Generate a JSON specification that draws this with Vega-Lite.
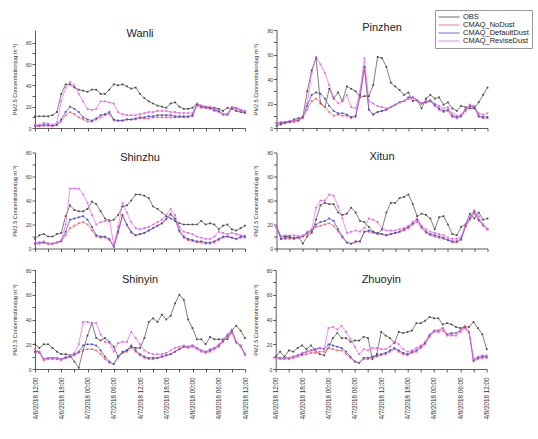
{
"$schema":"https://vega.github.io/schema/vega-lite/v6.json",
"padding":{"left":12,"top":9,"right":2,"bottom":2},
"background":"white",
"data":{"values":[
{"site":"Wanli","t":"2018-04-06T12:00","OBS":11,"NoDust":2,"DefaultDust":2,"ReviseDust":3},
{"site":"Wanli","t":"2018-04-06T13:00","OBS":11,"NoDust":2,"DefaultDust":2,"ReviseDust":3},
{"site":"Wanli","t":"2018-04-06T14:00","OBS":11,"NoDust":2,"DefaultDust":3,"ReviseDust":5},
{"site":"Wanli","t":"2018-04-06T15:00","OBS":11,"NoDust":2,"DefaultDust":3,"ReviseDust":4},
{"site":"Wanli","t":"2018-04-06T16:00","OBS":12,"NoDust":2,"DefaultDust":2,"ReviseDust":3},
{"site":"Wanli","t":"2018-04-06T17:00","OBS":15,"NoDust":3,"DefaultDust":3,"ReviseDust":5},
{"site":"Wanli","t":"2018-04-06T18:00","OBS":32,"NoDust":6,"DefaultDust":8,"ReviseDust":25},
{"site":"Wanli","t":"2018-04-06T19:00","OBS":41,"NoDust":12,"DefaultDust":15,"ReviseDust":38},
{"site":"Wanli","t":"2018-04-06T20:00","OBS":41,"NoDust":15,"DefaultDust":20,"ReviseDust":43},
{"site":"Wanli","t":"2018-04-06T21:00","OBS":38,"NoDust":13,"DefaultDust":18,"ReviseDust":40},
{"site":"Wanli","t":"2018-04-06T22:00","OBS":36,"NoDust":10,"DefaultDust":15,"ReviseDust":32},
{"site":"Wanli","t":"2018-04-06T23:00","OBS":35,"NoDust":8,"DefaultDust":10,"ReviseDust":25},
{"site":"Wanli","t":"2018-04-07T00:00","OBS":34,"NoDust":6,"DefaultDust":8,"ReviseDust":18},
{"site":"Wanli","t":"2018-04-07T01:00","OBS":36,"NoDust":6,"DefaultDust":7,"ReviseDust":17},
{"site":"Wanli","t":"2018-04-07T02:00","OBS":36,"NoDust":8,"DefaultDust":9,"ReviseDust":18},
{"site":"Wanli","t":"2018-04-07T03:00","OBS":32,"NoDust":10,"DefaultDust":12,"ReviseDust":25},
{"site":"Wanli","t":"2018-04-07T04:00","OBS":32,"NoDust":12,"DefaultDust":13,"ReviseDust":25},
{"site":"Wanli","t":"2018-04-07T05:00","OBS":36,"NoDust":13,"DefaultDust":15,"ReviseDust":24},
{"site":"Wanli","t":"2018-04-07T06:00","OBS":41,"NoDust":7,"DefaultDust":8,"ReviseDust":23},
{"site":"Wanli","t":"2018-04-07T07:00","OBS":40,"NoDust":7,"DefaultDust":7,"ReviseDust":15},
{"site":"Wanli","t":"2018-04-07T08:00","OBS":41,"NoDust":7,"DefaultDust":7,"ReviseDust":13},
{"site":"Wanli","t":"2018-04-07T09:00","OBS":39,"NoDust":8,"DefaultDust":8,"ReviseDust":12},
{"site":"Wanli","t":"2018-04-07T10:00","OBS":37,"NoDust":8,"DefaultDust":8,"ReviseDust":12},
{"site":"Wanli","t":"2018-04-07T11:00","OBS":38,"NoDust":8,"DefaultDust":9,"ReviseDust":12},
{"site":"Wanli","t":"2018-04-07T12:00","OBS":32,"NoDust":9,"DefaultDust":10,"ReviseDust":13},
{"site":"Wanli","t":"2018-04-07T13:00","OBS":28,"NoDust":9,"DefaultDust":10,"ReviseDust":14},
{"site":"Wanli","t":"2018-04-07T14:00","OBS":25,"NoDust":9,"DefaultDust":11,"ReviseDust":15},
{"site":"Wanli","t":"2018-04-07T15:00","OBS":23,"NoDust":10,"DefaultDust":11,"ReviseDust":15},
{"site":"Wanli","t":"2018-04-07T16:00","OBS":21,"NoDust":10,"DefaultDust":12,"ReviseDust":16},
{"site":"Wanli","t":"2018-04-07T17:00","OBS":20,"NoDust":10,"DefaultDust":12,"ReviseDust":16},
{"site":"Wanli","t":"2018-04-07T18:00","OBS":19,"NoDust":10,"DefaultDust":12,"ReviseDust":16},
{"site":"Wanli","t":"2018-04-07T19:00","OBS":23,"NoDust":10,"DefaultDust":12,"ReviseDust":15},
{"site":"Wanli","t":"2018-04-07T20:00","OBS":24,"NoDust":10,"DefaultDust":11,"ReviseDust":15},
{"site":"Wanli","t":"2018-04-07T21:00","OBS":20,"NoDust":10,"DefaultDust":11,"ReviseDust":14},
{"site":"Wanli","t":"2018-04-07T22:00","OBS":18,"NoDust":10,"DefaultDust":11,"ReviseDust":14},
{"site":"Wanli","t":"2018-04-07T23:00","OBS":18,"NoDust":10,"DefaultDust":11,"ReviseDust":14},
{"site":"Wanli","t":"2018-04-08T00:00","OBS":19,"NoDust":11,"DefaultDust":12,"ReviseDust":14},
{"site":"Wanli","t":"2018-04-08T01:00","OBS":23,"NoDust":21,"DefaultDust":22,"ReviseDust":23},
{"site":"Wanli","t":"2018-04-08T02:00","OBS":21,"NoDust":19,"DefaultDust":20,"ReviseDust":21},
{"site":"Wanli","t":"2018-04-08T03:00","OBS":20,"NoDust":19,"DefaultDust":19,"ReviseDust":20},
{"site":"Wanli","t":"2018-04-08T04:00","OBS":19,"NoDust":18,"DefaultDust":19,"ReviseDust":20},
{"site":"Wanli","t":"2018-04-08T05:00","OBS":19,"NoDust":16,"DefaultDust":17,"ReviseDust":18},
{"site":"Wanli","t":"2018-04-08T06:00","OBS":18,"NoDust":15,"DefaultDust":16,"ReviseDust":17},
{"site":"Wanli","t":"2018-04-08T07:00","OBS":16,"NoDust":12,"DefaultDust":13,"ReviseDust":13},
{"site":"Wanli","t":"2018-04-08T08:00","OBS":19,"NoDust":12,"DefaultDust":13,"ReviseDust":13},
{"site":"Wanli","t":"2018-04-08T09:00","OBS":18,"NoDust":18,"DefaultDust":19,"ReviseDust":20},
{"site":"Wanli","t":"2018-04-08T10:00","OBS":16,"NoDust":18,"DefaultDust":19,"ReviseDust":19},
{"site":"Wanli","t":"2018-04-08T11:00","OBS":15,"NoDust":16,"DefaultDust":17,"ReviseDust":17},
{"site":"Wanli","t":"2018-04-08T12:00","OBS":14,"NoDust":14,"DefaultDust":15,"ReviseDust":16},
{"site":"Pinzhen","t":"2018-04-06T12:00","OBS":2,"NoDust":4,"DefaultDust":4,"ReviseDust":4},
{"site":"Pinzhen","t":"2018-04-06T13:00","OBS":3,"NoDust":4,"DefaultDust":4,"ReviseDust":5},
{"site":"Pinzhen","t":"2018-04-06T14:00","OBS":4,"NoDust":5,"DefaultDust":5,"ReviseDust":5},
{"site":"Pinzhen","t":"2018-04-06T15:00","OBS":5,"NoDust":5,"DefaultDust":5,"ReviseDust":6},
{"site":"Pinzhen","t":"2018-04-06T16:00","OBS":7,"NoDust":5,"DefaultDust":6,"ReviseDust":6},
{"site":"Pinzhen","t":"2018-04-06T17:00","OBS":8,"NoDust":6,"DefaultDust":6,"ReviseDust":7},
{"site":"Pinzhen","t":"2018-04-06T18:00","OBS":9,"NoDust":8,"DefaultDust":9,"ReviseDust":10},
{"site":"Pinzhen","t":"2018-04-06T19:00","OBS":30,"NoDust":15,"DefaultDust":18,"ReviseDust":20},
{"site":"Pinzhen","t":"2018-04-06T20:00","OBS":47,"NoDust":22,"DefaultDust":27,"ReviseDust":45},
{"site":"Pinzhen","t":"2018-04-06T21:00","OBS":57,"NoDust":24,"DefaultDust":29,"ReviseDust":58},
{"site":"Pinzhen","t":"2018-04-06T22:00","OBS":20,"NoDust":21,"DefaultDust":28,"ReviseDust":52},
{"site":"Pinzhen","t":"2018-04-06T23:00","OBS":17,"NoDust":17,"DefaultDust":24,"ReviseDust":45},
{"site":"Pinzhen","t":"2018-04-07T00:00","OBS":32,"NoDust":13,"DefaultDust":18,"ReviseDust":35},
{"site":"Pinzhen","t":"2018-04-07T01:00","OBS":24,"NoDust":10,"DefaultDust":14,"ReviseDust":25},
{"site":"Pinzhen","t":"2018-04-07T02:00","OBS":29,"NoDust":11,"DefaultDust":12,"ReviseDust":20},
{"site":"Pinzhen","t":"2018-04-07T03:00","OBS":22,"NoDust":10,"DefaultDust":12,"ReviseDust":22},
{"site":"Pinzhen","t":"2018-04-07T04:00","OBS":34,"NoDust":10,"DefaultDust":11,"ReviseDust":27},
{"site":"Pinzhen","t":"2018-04-07T05:00","OBS":32,"NoDust":8,"DefaultDust":9,"ReviseDust":17},
{"site":"Pinzhen","t":"2018-04-07T06:00","OBS":30,"NoDust":9,"DefaultDust":10,"ReviseDust":16},
{"site":"Pinzhen","t":"2018-04-07T07:00","OBS":25,"NoDust":25,"DefaultDust":27,"ReviseDust":30},
{"site":"Pinzhen","t":"2018-04-07T08:00","OBS":26,"NoDust":48,"DefaultDust":50,"ReviseDust":57},
{"site":"Pinzhen","t":"2018-04-07T09:00","OBS":26,"NoDust":15,"DefaultDust":15,"ReviseDust":22},
{"site":"Pinzhen","t":"2018-04-07T10:00","OBS":35,"NoDust":11,"DefaultDust":11,"ReviseDust":20},
{"site":"Pinzhen","t":"2018-04-07T11:00","OBS":58,"NoDust":13,"DefaultDust":13,"ReviseDust":18},
{"site":"Pinzhen","t":"2018-04-07T12:00","OBS":57,"NoDust":14,"DefaultDust":14,"ReviseDust":17},
{"site":"Pinzhen","t":"2018-04-07T13:00","OBS":50,"NoDust":15,"DefaultDust":15,"ReviseDust":16},
{"site":"Pinzhen","t":"2018-04-07T14:00","OBS":37,"NoDust":17,"DefaultDust":17,"ReviseDust":17},
{"site":"Pinzhen","t":"2018-04-07T15:00","OBS":34,"NoDust":19,"DefaultDust":19,"ReviseDust":19},
{"site":"Pinzhen","t":"2018-04-07T16:00","OBS":31,"NoDust":21,"DefaultDust":21,"ReviseDust":21},
{"site":"Pinzhen","t":"2018-04-07T17:00","OBS":27,"NoDust":22,"DefaultDust":22,"ReviseDust":22},
{"site":"Pinzhen","t":"2018-04-07T18:00","OBS":29,"NoDust":24,"DefaultDust":25,"ReviseDust":24},
{"site":"Pinzhen","t":"2018-04-07T19:00","OBS":22,"NoDust":25,"DefaultDust":25,"ReviseDust":25},
{"site":"Pinzhen","t":"2018-04-07T20:00","OBS":23,"NoDust":22,"DefaultDust":23,"ReviseDust":23},
{"site":"Pinzhen","t":"2018-04-07T21:00","OBS":16,"NoDust":20,"DefaultDust":20,"ReviseDust":20},
{"site":"Pinzhen","t":"2018-04-07T22:00","OBS":24,"NoDust":21,"DefaultDust":21,"ReviseDust":22},
{"site":"Pinzhen","t":"2018-04-07T23:00","OBS":27,"NoDust":22,"DefaultDust":22,"ReviseDust":23},
{"site":"Pinzhen","t":"2018-04-08T00:00","OBS":24,"NoDust":18,"DefaultDust":19,"ReviseDust":20},
{"site":"Pinzhen","t":"2018-04-08T01:00","OBS":25,"NoDust":15,"DefaultDust":16,"ReviseDust":18},
{"site":"Pinzhen","t":"2018-04-08T02:00","OBS":19,"NoDust":13,"DefaultDust":14,"ReviseDust":16},
{"site":"Pinzhen","t":"2018-04-08T03:00","OBS":21,"NoDust":14,"DefaultDust":15,"ReviseDust":17},
{"site":"Pinzhen","t":"2018-04-08T04:00","OBS":16,"NoDust":9,"DefaultDust":10,"ReviseDust":12},
{"site":"Pinzhen","t":"2018-04-08T05:00","OBS":14,"NoDust":8,"DefaultDust":9,"ReviseDust":10},
{"site":"Pinzhen","t":"2018-04-08T06:00","OBS":18,"NoDust":9,"DefaultDust":10,"ReviseDust":11},
{"site":"Pinzhen","t":"2018-04-08T07:00","OBS":17,"NoDust":14,"DefaultDust":15,"ReviseDust":16},
{"site":"Pinzhen","t":"2018-04-08T08:00","OBS":16,"NoDust":17,"DefaultDust":18,"ReviseDust":19},
{"site":"Pinzhen","t":"2018-04-08T09:00","OBS":16,"NoDust":17,"DefaultDust":17,"ReviseDust":18},
{"site":"Pinzhen","t":"2018-04-08T10:00","OBS":21,"NoDust":9,"DefaultDust":10,"ReviseDust":12},
{"site":"Pinzhen","t":"2018-04-08T11:00","OBS":27,"NoDust":8,"DefaultDust":9,"ReviseDust":11},
{"site":"Pinzhen","t":"2018-04-08T12:00","OBS":33,"NoDust":8,"DefaultDust":9,"ReviseDust":12},
{"site":"Shinzhu","t":"2018-04-06T12:00","OBS":8,"NoDust":4,"DefaultDust":4,"ReviseDust":5},
{"site":"Shinzhu","t":"2018-04-06T13:00","OBS":11,"NoDust":4,"DefaultDust":5,"ReviseDust":5},
{"site":"Shinzhu","t":"2018-04-06T14:00","OBS":12,"NoDust":5,"DefaultDust":5,"ReviseDust":6},
{"site":"Shinzhu","t":"2018-04-06T15:00","OBS":10,"NoDust":4,"DefaultDust":4,"ReviseDust":4},
{"site":"Shinzhu","t":"2018-04-06T16:00","OBS":10,"NoDust":4,"DefaultDust":4,"ReviseDust":4},
{"site":"Shinzhu","t":"2018-04-06T17:00","OBS":12,"NoDust":5,"DefaultDust":5,"ReviseDust":5},
{"site":"Shinzhu","t":"2018-04-06T18:00","OBS":13,"NoDust":6,"DefaultDust":6,"ReviseDust":7},
{"site":"Shinzhu","t":"2018-04-06T19:00","OBS":27,"NoDust":11,"DefaultDust":14,"ReviseDust":20},
{"site":"Shinzhu","t":"2018-04-06T20:00","OBS":36,"NoDust":17,"DefaultDust":24,"ReviseDust":50},
{"site":"Shinzhu","t":"2018-04-06T21:00","OBS":32,"NoDust":19,"DefaultDust":25,"ReviseDust":50},
{"site":"Shinzhu","t":"2018-04-06T22:00","OBS":31,"NoDust":21,"DefaultDust":26,"ReviseDust":50},
{"site":"Shinzhu","t":"2018-04-06T23:00","OBS":31,"NoDust":22,"DefaultDust":27,"ReviseDust":45},
{"site":"Shinzhu","t":"2018-04-07T00:00","OBS":33,"NoDust":20,"DefaultDust":24,"ReviseDust":38},
{"site":"Shinzhu","t":"2018-04-07T01:00","OBS":39,"NoDust":15,"DefaultDust":18,"ReviseDust":28},
{"site":"Shinzhu","t":"2018-04-07T02:00","OBS":37,"NoDust":10,"DefaultDust":11,"ReviseDust":20},
{"site":"Shinzhu","t":"2018-04-07T03:00","OBS":31,"NoDust":9,"DefaultDust":10,"ReviseDust":22},
{"site":"Shinzhu","t":"2018-04-07T04:00","OBS":25,"NoDust":9,"DefaultDust":10,"ReviseDust":23},
{"site":"Shinzhu","t":"2018-04-07T05:00","OBS":23,"NoDust":7,"DefaultDust":8,"ReviseDust":24},
{"site":"Shinzhu","t":"2018-04-07T06:00","OBS":24,"NoDust":1,"DefaultDust":2,"ReviseDust":3},
{"site":"Shinzhu","t":"2018-04-07T07:00","OBS":28,"NoDust":13,"DefaultDust":14,"ReviseDust":18},
{"site":"Shinzhu","t":"2018-04-07T08:00","OBS":35,"NoDust":27,"DefaultDust":28,"ReviseDust":38},
{"site":"Shinzhu","t":"2018-04-07T09:00","OBS":36,"NoDust":19,"DefaultDust":20,"ReviseDust":30},
{"site":"Shinzhu","t":"2018-04-07T10:00","OBS":40,"NoDust":13,"DefaultDust":14,"ReviseDust":22},
{"site":"Shinzhu","t":"2018-04-07T11:00","OBS":45,"NoDust":11,"DefaultDust":11,"ReviseDust":17},
{"site":"Shinzhu","t":"2018-04-07T12:00","OBS":45,"NoDust":12,"DefaultDust":12,"ReviseDust":16},
{"site":"Shinzhu","t":"2018-04-07T13:00","OBS":44,"NoDust":13,"DefaultDust":13,"ReviseDust":17},
{"site":"Shinzhu","t":"2018-04-07T14:00","OBS":42,"NoDust":15,"DefaultDust":15,"ReviseDust":18},
{"site":"Shinzhu","t":"2018-04-07T15:00","OBS":35,"NoDust":17,"DefaultDust":17,"ReviseDust":20},
{"site":"Shinzhu","t":"2018-04-07T16:00","OBS":33,"NoDust":19,"DefaultDust":19,"ReviseDust":22},
{"site":"Shinzhu","t":"2018-04-07T17:00","OBS":30,"NoDust":21,"DefaultDust":21,"ReviseDust":24},
{"site":"Shinzhu","t":"2018-04-07T18:00","OBS":27,"NoDust":24,"DefaultDust":25,"ReviseDust":28},
{"site":"Shinzhu","t":"2018-04-07T19:00","OBS":25,"NoDust":28,"DefaultDust":29,"ReviseDust":33},
{"site":"Shinzhu","t":"2018-04-07T20:00","OBS":23,"NoDust":24,"DefaultDust":25,"ReviseDust":28},
{"site":"Shinzhu","t":"2018-04-07T21:00","OBS":21,"NoDust":14,"DefaultDust":15,"ReviseDust":18},
{"site":"Shinzhu","t":"2018-04-07T22:00","OBS":20,"NoDust":9,"DefaultDust":10,"ReviseDust":14},
{"site":"Shinzhu","t":"2018-04-07T23:00","OBS":20,"NoDust":7,"DefaultDust":8,"ReviseDust":13},
{"site":"Shinzhu","t":"2018-04-08T00:00","OBS":20,"NoDust":6,"DefaultDust":7,"ReviseDust":12},
{"site":"Shinzhu","t":"2018-04-08T01:00","OBS":20,"NoDust":5,"DefaultDust":6,"ReviseDust":10},
{"site":"Shinzhu","t":"2018-04-08T02:00","OBS":23,"NoDust":5,"DefaultDust":6,"ReviseDust":9},
{"site":"Shinzhu","t":"2018-04-08T03:00","OBS":20,"NoDust":4,"DefaultDust":5,"ReviseDust":8},
{"site":"Shinzhu","t":"2018-04-08T04:00","OBS":21,"NoDust":4,"DefaultDust":5,"ReviseDust":8},
{"site":"Shinzhu","t":"2018-04-08T05:00","OBS":20,"NoDust":5,"DefaultDust":6,"ReviseDust":10},
{"site":"Shinzhu","t":"2018-04-08T06:00","OBS":16,"NoDust":7,"DefaultDust":8,"ReviseDust":14},
{"site":"Shinzhu","t":"2018-04-08T07:00","OBS":19,"NoDust":9,"DefaultDust":10,"ReviseDust":13},
{"site":"Shinzhu","t":"2018-04-08T08:00","OBS":20,"NoDust":10,"DefaultDust":10,"ReviseDust":12},
{"site":"Shinzhu","t":"2018-04-08T09:00","OBS":16,"NoDust":9,"DefaultDust":9,"ReviseDust":13},
{"site":"Shinzhu","t":"2018-04-08T10:00","OBS":15,"NoDust":8,"DefaultDust":8,"ReviseDust":12},
{"site":"Shinzhu","t":"2018-04-08T11:00","OBS":17,"NoDust":9,"DefaultDust":10,"ReviseDust":11},
{"site":"Shinzhu","t":"2018-04-08T12:00","OBS":19,"NoDust":9,"DefaultDust":10,"ReviseDust":11},
{"site":"Xitun","t":"2018-04-06T12:00","OBS":18,"NoDust":18,"DefaultDust":18,"ReviseDust":18},
{"site":"Xitun","t":"2018-04-06T13:00","OBS":10,"NoDust":8,"DefaultDust":8,"ReviseDust":10},
{"site":"Xitun","t":"2018-04-06T14:00","OBS":10,"NoDust":8,"DefaultDust":9,"ReviseDust":11},
{"site":"Xitun","t":"2018-04-06T15:00","OBS":10,"NoDust":8,"DefaultDust":9,"ReviseDust":11},
{"site":"Xitun","t":"2018-04-06T16:00","OBS":8,"NoDust":8,"DefaultDust":9,"ReviseDust":11},
{"site":"Xitun","t":"2018-04-06T17:00","OBS":10,"NoDust":9,"DefaultDust":9,"ReviseDust":10},
{"site":"Xitun","t":"2018-04-06T18:00","OBS":4,"NoDust":10,"DefaultDust":10,"ReviseDust":11},
{"site":"Xitun","t":"2018-04-06T19:00","OBS":10,"NoDust":12,"DefaultDust":13,"ReviseDust":14},
{"site":"Xitun","t":"2018-04-06T20:00","OBS":13,"NoDust":14,"DefaultDust":15,"ReviseDust":16},
{"site":"Xitun","t":"2018-04-06T21:00","OBS":24,"NoDust":18,"DefaultDust":20,"ReviseDust":34},
{"site":"Xitun","t":"2018-04-06T22:00","OBS":36,"NoDust":19,"DefaultDust":22,"ReviseDust":40},
{"site":"Xitun","t":"2018-04-06T23:00","OBS":38,"NoDust":20,"DefaultDust":23,"ReviseDust":40},
{"site":"Xitun","t":"2018-04-07T00:00","OBS":37,"NoDust":21,"DefaultDust":25,"ReviseDust":45},
{"site":"Xitun","t":"2018-04-07T01:00","OBS":37,"NoDust":19,"DefaultDust":23,"ReviseDust":44},
{"site":"Xitun","t":"2018-04-07T02:00","OBS":30,"NoDust":14,"DefaultDust":16,"ReviseDust":35},
{"site":"Xitun","t":"2018-04-07T03:00","OBS":28,"NoDust":9,"DefaultDust":10,"ReviseDust":25},
{"site":"Xitun","t":"2018-04-07T04:00","OBS":29,"NoDust":5,"DefaultDust":5,"ReviseDust":13},
{"site":"Xitun","t":"2018-04-07T05:00","OBS":34,"NoDust":4,"DefaultDust":4,"ReviseDust":14},
{"site":"Xitun","t":"2018-04-07T06:00","OBS":30,"NoDust":5,"DefaultDust":6,"ReviseDust":15},
{"site":"Xitun","t":"2018-04-07T07:00","OBS":23,"NoDust":6,"DefaultDust":6,"ReviseDust":14},
{"site":"Xitun","t":"2018-04-07T08:00","OBS":22,"NoDust":14,"DefaultDust":14,"ReviseDust":17},
{"site":"Xitun","t":"2018-04-07T09:00","OBS":18,"NoDust":14,"DefaultDust":15,"ReviseDust":25},
{"site":"Xitun","t":"2018-04-07T10:00","OBS":14,"NoDust":13,"DefaultDust":14,"ReviseDust":24},
{"site":"Xitun","t":"2018-04-07T11:00","OBS":12,"NoDust":12,"DefaultDust":13,"ReviseDust":22},
{"site":"Xitun","t":"2018-04-07T12:00","OBS":16,"NoDust":12,"DefaultDust":12,"ReviseDust":17},
{"site":"Xitun","t":"2018-04-07T13:00","OBS":30,"NoDust":11,"DefaultDust":11,"ReviseDust":15},
{"site":"Xitun","t":"2018-04-07T14:00","OBS":38,"NoDust":12,"DefaultDust":12,"ReviseDust":15},
{"site":"Xitun","t":"2018-04-07T15:00","OBS":38,"NoDust":13,"DefaultDust":13,"ReviseDust":15},
{"site":"Xitun","t":"2018-04-07T16:00","OBS":42,"NoDust":14,"DefaultDust":14,"ReviseDust":16},
{"site":"Xitun","t":"2018-04-07T17:00","OBS":43,"NoDust":15,"DefaultDust":16,"ReviseDust":17},
{"site":"Xitun","t":"2018-04-07T18:00","OBS":45,"NoDust":17,"DefaultDust":18,"ReviseDust":19},
{"site":"Xitun","t":"2018-04-07T19:00","OBS":37,"NoDust":20,"DefaultDust":21,"ReviseDust":22},
{"site":"Xitun","t":"2018-04-07T20:00","OBS":27,"NoDust":22,"DefaultDust":24,"ReviseDust":25},
{"site":"Xitun","t":"2018-04-07T21:00","OBS":29,"NoDust":17,"DefaultDust":18,"ReviseDust":19},
{"site":"Xitun","t":"2018-04-07T22:00","OBS":28,"NoDust":13,"DefaultDust":14,"ReviseDust":16},
{"site":"Xitun","t":"2018-04-07T23:00","OBS":25,"NoDust":11,"DefaultDust":12,"ReviseDust":14},
{"site":"Xitun","t":"2018-04-08T00:00","OBS":16,"NoDust":10,"DefaultDust":11,"ReviseDust":13},
{"site":"Xitun","t":"2018-04-08T01:00","OBS":26,"NoDust":9,"DefaultDust":10,"ReviseDust":12},
{"site":"Xitun","t":"2018-04-08T02:00","OBS":27,"NoDust":8,"DefaultDust":9,"ReviseDust":11},
{"site":"Xitun","t":"2018-04-08T03:00","OBS":20,"NoDust":7,"DefaultDust":7,"ReviseDust":9},
{"site":"Xitun","t":"2018-04-08T04:00","OBS":12,"NoDust":5,"DefaultDust":6,"ReviseDust":8},
{"site":"Xitun","t":"2018-04-08T05:00","OBS":11,"NoDust":5,"DefaultDust":6,"ReviseDust":8},
{"site":"Xitun","t":"2018-04-08T06:00","OBS":18,"NoDust":7,"DefaultDust":8,"ReviseDust":10},
{"site":"Xitun","t":"2018-04-08T07:00","OBS":20,"NoDust":18,"DefaultDust":19,"ReviseDust":20},
{"site":"Xitun","t":"2018-04-08T08:00","OBS":29,"NoDust":24,"DefaultDust":25,"ReviseDust":27},
{"site":"Xitun","t":"2018-04-08T09:00","OBS":25,"NoDust":29,"DefaultDust":31,"ReviseDust":32},
{"site":"Xitun","t":"2018-04-08T10:00","OBS":30,"NoDust":23,"DefaultDust":24,"ReviseDust":27},
{"site":"Xitun","t":"2018-04-08T11:00","OBS":24,"NoDust":19,"DefaultDust":20,"ReviseDust":20},
{"site":"Xitun","t":"2018-04-08T12:00","OBS":25,"NoDust":16,"DefaultDust":16,"ReviseDust":16},
{"site":"Shinyin","t":"2018-04-06T12:00","OBS":20,"NoDust":13,"DefaultDust":14,"ReviseDust":16},
{"site":"Shinyin","t":"2018-04-06T13:00","OBS":17,"NoDust":13,"DefaultDust":14,"ReviseDust":14},
{"site":"Shinyin","t":"2018-04-06T14:00","OBS":20,"NoDust":7,"DefaultDust":8,"ReviseDust":8},
{"site":"Shinyin","t":"2018-04-06T15:00","OBS":20,"NoDust":8,"DefaultDust":9,"ReviseDust":9},
{"site":"Shinyin","t":"2018-04-06T16:00","OBS":17,"NoDust":8,"DefaultDust":9,"ReviseDust":9},
{"site":"Shinyin","t":"2018-04-06T17:00","OBS":14,"NoDust":8,"DefaultDust":9,"ReviseDust":9},
{"site":"Shinyin","t":"2018-04-06T18:00","OBS":12,"NoDust":7,"DefaultDust":8,"ReviseDust":8},
{"site":"Shinyin","t":"2018-04-06T19:00","OBS":12,"NoDust":9,"DefaultDust":9,"ReviseDust":10},
{"site":"Shinyin","t":"2018-04-06T20:00","OBS":11,"NoDust":10,"DefaultDust":10,"ReviseDust":11},
{"site":"Shinyin","t":"2018-04-06T21:00","OBS":6,"NoDust":11,"DefaultDust":12,"ReviseDust":13},
{"site":"Shinyin","t":"2018-04-06T22:00","OBS":1,"NoDust":13,"DefaultDust":14,"ReviseDust":20},
{"site":"Shinyin","t":"2018-04-06T23:00","OBS":15,"NoDust":15,"DefaultDust":19,"ReviseDust":38},
{"site":"Shinyin","t":"2018-04-07T00:00","OBS":27,"NoDust":16,"DefaultDust":20,"ReviseDust":38},
{"site":"Shinyin","t":"2018-04-07T01:00","OBS":37,"NoDust":16,"DefaultDust":20,"ReviseDust":37},
{"site":"Shinyin","t":"2018-04-07T02:00","OBS":25,"NoDust":15,"DefaultDust":19,"ReviseDust":37},
{"site":"Shinyin","t":"2018-04-07T03:00","OBS":23,"NoDust":12,"DefaultDust":15,"ReviseDust":28},
{"site":"Shinyin","t":"2018-04-07T04:00","OBS":25,"NoDust":8,"DefaultDust":10,"ReviseDust":22},
{"site":"Shinyin","t":"2018-04-07T05:00","OBS":22,"NoDust":5,"DefaultDust":6,"ReviseDust":21},
{"site":"Shinyin","t":"2018-04-07T06:00","OBS":18,"NoDust":4,"DefaultDust":4,"ReviseDust":14},
{"site":"Shinyin","t":"2018-04-07T07:00","OBS":10,"NoDust":9,"DefaultDust":10,"ReviseDust":21},
{"site":"Shinyin","t":"2018-04-07T08:00","OBS":13,"NoDust":13,"DefaultDust":14,"ReviseDust":22},
{"site":"Shinyin","t":"2018-04-07T09:00","OBS":15,"NoDust":14,"DefaultDust":15,"ReviseDust":22},
{"site":"Shinyin","t":"2018-04-07T10:00","OBS":18,"NoDust":17,"DefaultDust":19,"ReviseDust":30},
{"site":"Shinyin","t":"2018-04-07T11:00","OBS":17,"NoDust":14,"DefaultDust":15,"ReviseDust":25},
{"site":"Shinyin","t":"2018-04-07T12:00","OBS":17,"NoDust":11,"DefaultDust":12,"ReviseDust":20},
{"site":"Shinyin","t":"2018-04-07T13:00","OBS":25,"NoDust":9,"DefaultDust":10,"ReviseDust":15},
{"site":"Shinyin","t":"2018-04-07T14:00","OBS":38,"NoDust":8,"DefaultDust":9,"ReviseDust":13},
{"site":"Shinyin","t":"2018-04-07T15:00","OBS":41,"NoDust":8,"DefaultDust":9,"ReviseDust":12},
{"site":"Shinyin","t":"2018-04-07T16:00","OBS":38,"NoDust":9,"DefaultDust":9,"ReviseDust":12},
{"site":"Shinyin","t":"2018-04-07T17:00","OBS":44,"NoDust":10,"DefaultDust":10,"ReviseDust":12},
{"site":"Shinyin","t":"2018-04-07T18:00","OBS":40,"NoDust":11,"DefaultDust":11,"ReviseDust":13},
{"site":"Shinyin","t":"2018-04-07T19:00","OBS":43,"NoDust":12,"DefaultDust":12,"ReviseDust":15},
{"site":"Shinyin","t":"2018-04-07T20:00","OBS":53,"NoDust":14,"DefaultDust":14,"ReviseDust":17},
{"site":"Shinyin","t":"2018-04-07T21:00","OBS":60,"NoDust":16,"DefaultDust":16,"ReviseDust":18},
{"site":"Shinyin","t":"2018-04-07T22:00","OBS":56,"NoDust":18,"DefaultDust":18,"ReviseDust":19},
{"site":"Shinyin","t":"2018-04-07T23:00","OBS":40,"NoDust":17,"DefaultDust":18,"ReviseDust":18},
{"site":"Shinyin","t":"2018-04-08T00:00","OBS":33,"NoDust":18,"DefaultDust":19,"ReviseDust":19},
{"site":"Shinyin","t":"2018-04-08T01:00","OBS":24,"NoDust":16,"DefaultDust":17,"ReviseDust":17},
{"site":"Shinyin","t":"2018-04-08T02:00","OBS":24,"NoDust":14,"DefaultDust":15,"ReviseDust":15},
{"site":"Shinyin","t":"2018-04-08T03:00","OBS":20,"NoDust":13,"DefaultDust":14,"ReviseDust":14},
{"site":"Shinyin","t":"2018-04-08T04:00","OBS":26,"NoDust":14,"DefaultDust":15,"ReviseDust":16},
{"site":"Shinyin","t":"2018-04-08T05:00","OBS":24,"NoDust":16,"DefaultDust":17,"ReviseDust":17},
{"site":"Shinyin","t":"2018-04-08T06:00","OBS":24,"NoDust":18,"DefaultDust":19,"ReviseDust":20},
{"site":"Shinyin","t":"2018-04-08T07:00","OBS":24,"NoDust":22,"DefaultDust":23,"ReviseDust":24},
{"site":"Shinyin","t":"2018-04-08T08:00","OBS":24,"NoDust":26,"DefaultDust":27,"ReviseDust":28},
{"site":"Shinyin","t":"2018-04-08T09:00","OBS":31,"NoDust":29,"DefaultDust":31,"ReviseDust":32},
{"site":"Shinyin","t":"2018-04-08T10:00","OBS":35,"NoDust":21,"DefaultDust":22,"ReviseDust":22},
{"site":"Shinyin","t":"2018-04-08T11:00","OBS":31,"NoDust":18,"DefaultDust":19,"ReviseDust":19},
{"site":"Shinyin","t":"2018-04-08T12:00","OBS":25,"NoDust":11,"DefaultDust":12,"ReviseDust":12},
{"site":"Zhuoyin","t":"2018-04-06T12:00","OBS":10,"NoDust":9,"DefaultDust":10,"ReviseDust":9},
{"site":"Zhuoyin","t":"2018-04-06T13:00","OBS":14,"NoDust":8,"DefaultDust":9,"ReviseDust":9},
{"site":"Zhuoyin","t":"2018-04-06T14:00","OBS":10,"NoDust":8,"DefaultDust":9,"ReviseDust":9},
{"site":"Zhuoyin","t":"2018-04-06T15:00","OBS":15,"NoDust":8,"DefaultDust":9,"ReviseDust":9},
{"site":"Zhuoyin","t":"2018-04-06T16:00","OBS":14,"NoDust":9,"DefaultDust":10,"ReviseDust":10},
{"site":"Zhuoyin","t":"2018-04-06T17:00","OBS":17,"NoDust":10,"DefaultDust":11,"ReviseDust":11},
{"site":"Zhuoyin","t":"2018-04-06T18:00","OBS":19,"NoDust":11,"DefaultDust":12,"ReviseDust":13},
{"site":"Zhuoyin","t":"2018-04-06T19:00","OBS":16,"NoDust":12,"DefaultDust":14,"ReviseDust":14},
{"site":"Zhuoyin","t":"2018-04-06T20:00","OBS":19,"NoDust":13,"DefaultDust":15,"ReviseDust":15},
{"site":"Zhuoyin","t":"2018-04-06T21:00","OBS":15,"NoDust":13,"DefaultDust":16,"ReviseDust":15},
{"site":"Zhuoyin","t":"2018-04-06T22:00","OBS":12,"NoDust":14,"DefaultDust":17,"ReviseDust":17},
{"site":"Zhuoyin","t":"2018-04-06T23:00","OBS":11,"NoDust":14,"DefaultDust":16,"ReviseDust":16},
{"site":"Zhuoyin","t":"2018-04-07T00:00","OBS":17,"NoDust":17,"DefaultDust":20,"ReviseDust":33},
{"site":"Zhuoyin","t":"2018-04-07T01:00","OBS":25,"NoDust":16,"DefaultDust":19,"ReviseDust":34},
{"site":"Zhuoyin","t":"2018-04-07T02:00","OBS":29,"NoDust":15,"DefaultDust":18,"ReviseDust":32},
{"site":"Zhuoyin","t":"2018-04-07T03:00","OBS":25,"NoDust":15,"DefaultDust":17,"ReviseDust":35},
{"site":"Zhuoyin","t":"2018-04-07T04:00","OBS":25,"NoDust":12,"DefaultDust":14,"ReviseDust":30},
{"site":"Zhuoyin","t":"2018-04-07T05:00","OBS":22,"NoDust":9,"DefaultDust":10,"ReviseDust":24},
{"site":"Zhuoyin","t":"2018-04-07T06:00","OBS":23,"NoDust":6,"DefaultDust":6,"ReviseDust":18},
{"site":"Zhuoyin","t":"2018-04-07T07:00","OBS":23,"NoDust":5,"DefaultDust":5,"ReviseDust":12},
{"site":"Zhuoyin","t":"2018-04-07T08:00","OBS":26,"NoDust":8,"DefaultDust":9,"ReviseDust":16},
{"site":"Zhuoyin","t":"2018-04-07T09:00","OBS":25,"NoDust":8,"DefaultDust":9,"ReviseDust":15},
{"site":"Zhuoyin","t":"2018-04-07T10:00","OBS":8,"NoDust":9,"DefaultDust":10,"ReviseDust":17},
{"site":"Zhuoyin","t":"2018-04-07T11:00","OBS":12,"NoDust":10,"DefaultDust":11,"ReviseDust":17},
{"site":"Zhuoyin","t":"2018-04-07T12:00","OBS":30,"NoDust":11,"DefaultDust":12,"ReviseDust":16},
{"site":"Zhuoyin","t":"2018-04-07T13:00","OBS":27,"NoDust":12,"DefaultDust":13,"ReviseDust":16},
{"site":"Zhuoyin","t":"2018-04-07T14:00","OBS":25,"NoDust":14,"DefaultDust":15,"ReviseDust":18},
{"site":"Zhuoyin","t":"2018-04-07T15:00","OBS":21,"NoDust":16,"DefaultDust":17,"ReviseDust":22},
{"site":"Zhuoyin","t":"2018-04-07T16:00","OBS":30,"NoDust":14,"DefaultDust":15,"ReviseDust":20},
{"site":"Zhuoyin","t":"2018-04-07T17:00","OBS":29,"NoDust":12,"DefaultDust":13,"ReviseDust":16},
{"site":"Zhuoyin","t":"2018-04-07T18:00","OBS":30,"NoDust":11,"DefaultDust":12,"ReviseDust":14},
{"site":"Zhuoyin","t":"2018-04-07T19:00","OBS":31,"NoDust":13,"DefaultDust":14,"ReviseDust":15},
{"site":"Zhuoyin","t":"2018-04-07T20:00","OBS":37,"NoDust":14,"DefaultDust":15,"ReviseDust":17},
{"site":"Zhuoyin","t":"2018-04-07T21:00","OBS":37,"NoDust":17,"DefaultDust":18,"ReviseDust":19},
{"site":"Zhuoyin","t":"2018-04-07T22:00","OBS":39,"NoDust":20,"DefaultDust":21,"ReviseDust":22},
{"site":"Zhuoyin","t":"2018-04-07T23:00","OBS":42,"NoDust":26,"DefaultDust":27,"ReviseDust":28},
{"site":"Zhuoyin","t":"2018-04-08T00:00","OBS":41,"NoDust":30,"DefaultDust":31,"ReviseDust":31},
{"site":"Zhuoyin","t":"2018-04-08T01:00","OBS":41,"NoDust":30,"DefaultDust":31,"ReviseDust":31},
{"site":"Zhuoyin","t":"2018-04-08T02:00","OBS":36,"NoDust":31,"DefaultDust":33,"ReviseDust":33},
{"site":"Zhuoyin","t":"2018-04-08T03:00","OBS":37,"NoDust":27,"DefaultDust":28,"ReviseDust":28},
{"site":"Zhuoyin","t":"2018-04-08T04:00","OBS":36,"NoDust":27,"DefaultDust":29,"ReviseDust":28},
{"site":"Zhuoyin","t":"2018-04-08T05:00","OBS":34,"NoDust":27,"DefaultDust":29,"ReviseDust":29},
{"site":"Zhuoyin","t":"2018-04-08T06:00","OBS":33,"NoDust":30,"DefaultDust":31,"ReviseDust":31},
{"site":"Zhuoyin","t":"2018-04-08T07:00","OBS":34,"NoDust":33,"DefaultDust":34,"ReviseDust":35},
{"site":"Zhuoyin","t":"2018-04-08T08:00","OBS":34,"NoDust":29,"DefaultDust":30,"ReviseDust":30},
{"site":"Zhuoyin","t":"2018-04-08T09:00","OBS":38,"NoDust":6,"DefaultDust":7,"ReviseDust":8},
{"site":"Zhuoyin","t":"2018-04-08T10:00","OBS":33,"NoDust":8,"DefaultDust":9,"ReviseDust":10},
{"site":"Zhuoyin","t":"2018-04-08T11:00","OBS":28,"NoDust":9,"DefaultDust":10,"ReviseDust":11},
{"site":"Zhuoyin","t":"2018-04-08T12:00","OBS":16,"NoDust":9,"DefaultDust":10,"ReviseDust":11}
]},
"transform":[{"fold":["OBS","NoDust","DefaultDust","ReviseDust"],"as":["series","value"]}],
"vconcat":[
{"hconcat":[
{"width":210,"height":98,"title":{"text":"Wanli","offset":-9},"transform":[{"filter":"datum.site=='Wanli'"}],
"mark":{"type":"line","strokeWidth":0.7,"point":{"filled":true,"size":3,"shape":"square"}},
"encoding":{
"x":{"field":"t","type":"temporal","scale":{"domain":[{"year":2018,"month":4,"date":6,"hours":12},{"year":2018,"month":4,"date":8,"hours":12}],"nice":false},"axis":{"title":null,"labels":false,"tickCount":16}},
"y":{"field":"value","type":"quantitative","scale":{"domain":[0,92],"nice":false},"axis":{"title":"PM2.5 Concentration(ug m⁻³)","values":[0,10,20,30,40,50,60,70,80],"labelExpr":"datum.value%20==0 ? datum.label : ''"}},
"color":{"field":"series","type":"nominal","scale":{"domain":["OBS","NoDust","DefaultDust","ReviseDust"],"range":["#484848","#f06868","#4848c8","#e860e8"]},"legend":{"title":null,"labelExpr":"datum.label=='OBS' ? 'OBS' : 'CMAQ_' + datum.label"}}}},
{"width":211,"height":98,"title":{"text":"Pinzhen","offset":-5},"transform":[{"filter":"datum.site=='Pinzhen'"}],
"mark":{"type":"line","strokeWidth":0.7,"point":{"filled":true,"size":3,"shape":"square"}},
"encoding":{
"x":{"field":"t","type":"temporal","scale":{"domain":[{"year":2018,"month":4,"date":6,"hours":12},{"year":2018,"month":4,"date":8,"hours":12}],"nice":false},"axis":{"title":null,"labels":false,"tickCount":16}},
"y":{"field":"value","type":"quantitative","scale":{"domain":[0,80],"nice":false},"axis":{"title":"PM2.5 Concentration(ug m⁻³)","values":[0,10,20,30,40,50,60,70,80],"labelExpr":"datum.value%20==0 ? datum.label : ''"}},
"color":{"field":"series","type":"nominal","scale":{"domain":["OBS","NoDust","DefaultDust","ReviseDust"],"range":["#484848","#f06868","#4848c8","#e860e8"]},"legend":{"title":null,"labelExpr":"datum.label=='OBS' ? 'OBS' : 'CMAQ_' + datum.label"}}}}
],"spacing":6.5},
{"vconcat":[
{"hconcat":[
{"width":210,"height":96,"title":{"text":"Shinzhu","offset":-12},"transform":[{"filter":"datum.site=='Shinzhu'"}],
"mark":{"type":"line","strokeWidth":0.7,"point":{"filled":true,"size":3,"shape":"square"}},
"encoding":{
"x":{"field":"t","type":"temporal","scale":{"domain":[{"year":2018,"month":4,"date":6,"hours":12},{"year":2018,"month":4,"date":8,"hours":12}],"nice":false},"axis":{"title":null,"labels":false,"tickCount":16}},
"y":{"field":"value","type":"quantitative","scale":{"domain":[0,80],"nice":false},"axis":{"title":"PM2.5 Concentration(ug m⁻³)","values":[0,10,20,30,40,50,60,70,80],"labelExpr":"datum.value%20==0 ? datum.label : ''"}},
"color":{"field":"series","type":"nominal","scale":{"domain":["OBS","NoDust","DefaultDust","ReviseDust"],"range":["#484848","#f06868","#4848c8","#e860e8"]},"legend":{"title":null,"labelExpr":"datum.label=='OBS' ? 'OBS' : 'CMAQ_' + datum.label"}}}},
{"width":211,"height":96,"title":{"text":"Xitun","offset":-11},"transform":[{"filter":"datum.site=='Xitun'"}],
"mark":{"type":"line","strokeWidth":0.7,"point":{"filled":true,"size":3,"shape":"square"}},
"encoding":{
"x":{"field":"t","type":"temporal","scale":{"domain":[{"year":2018,"month":4,"date":6,"hours":12},{"year":2018,"month":4,"date":8,"hours":12}],"nice":false},"axis":{"title":null,"labels":false,"tickCount":16}},
"y":{"field":"value","type":"quantitative","scale":{"domain":[0,80],"nice":false},"axis":{"title":"PM2.5 Concentration(ug m⁻³)","values":[0,10,20,30,40,50,60,70,80],"labelExpr":"datum.value%20==0 ? datum.label : ''"}},
"color":{"field":"series","type":"nominal","scale":{"domain":["OBS","NoDust","DefaultDust","ReviseDust"],"range":["#484848","#f06868","#4848c8","#e860e8"]},"legend":{"title":null,"labelExpr":"datum.label=='OBS' ? 'OBS' : 'CMAQ_' + datum.label"}}}}
],"spacing":6.5},
{"hconcat":[
{"width":210,"height":99,"title":{"text":"Shinyin","offset":-17},"transform":[{"filter":"datum.site=='Shinyin'"}],
"mark":{"type":"line","strokeWidth":0.7,"point":{"filled":true,"size":3,"shape":"square"}},
"encoding":{
"x":{"field":"t","type":"temporal","scale":{"domain":[{"year":2018,"month":4,"date":6,"hours":12},{"year":2018,"month":4,"date":8,"hours":12}],"nice":false},"axis":{"title":null,"tickCount":16,"labelExpr":"hours(datum.value)%6==0 ? timeFormat(datum.value,'%-m/%-d/%Y %H:%M') : ''","labelAngle":270,"labelFontSize":6.3,"labelOverlap":false,"labelFlush":false,"labelBound":false,"labelPadding":5}},
"y":{"field":"value","type":"quantitative","scale":{"domain":[0,80],"nice":false},"axis":{"title":"PM2.5 Concentration(ug m⁻³)","values":[0,10,20,30,40,50,60,70,80],"labelExpr":"datum.value%20==0 ? datum.label : ''"}},
"color":{"field":"series","type":"nominal","scale":{"domain":["OBS","NoDust","DefaultDust","ReviseDust"],"range":["#484848","#f06868","#4848c8","#e860e8"]},"legend":{"title":null,"labelExpr":"datum.label=='OBS' ? 'OBS' : 'CMAQ_' + datum.label"}}}},
{"width":211,"height":99,"title":{"text":"Zhuoyin","offset":-17},"transform":[{"filter":"datum.site=='Zhuoyin'"}],
"mark":{"type":"line","strokeWidth":0.7,"point":{"filled":true,"size":3,"shape":"square"}},
"encoding":{
"x":{"field":"t","type":"temporal","scale":{"domain":[{"year":2018,"month":4,"date":6,"hours":12},{"year":2018,"month":4,"date":8,"hours":12}],"nice":false},"axis":{"title":null,"tickCount":16,"labelExpr":"hours(datum.value)%6==0 ? timeFormat(datum.value,'%-m/%-d/%Y %H:%M') : ''","labelAngle":270,"labelFontSize":6.3,"labelOverlap":false,"labelFlush":false,"labelBound":false,"labelPadding":5}},
"y":{"field":"value","type":"quantitative","scale":{"domain":[0,80],"nice":false},"axis":{"title":"PM2.5 Concentration(ug m⁻³)","values":[0,10,20,30,40,50,60,70,80],"labelExpr":"datum.value%20==0 ? datum.label : ''"}},
"color":{"field":"series","type":"nominal","scale":{"domain":["OBS","NoDust","DefaultDust","ReviseDust"],"range":["#484848","#f06868","#4848c8","#e860e8"]},"legend":{"title":null,"labelExpr":"datum.label=='OBS' ? 'OBS' : 'CMAQ_' + datum.label"}}}}
],"spacing":3.7}
],"spacing":15.5}
],
"spacing":18.5,
"config":{
"view":{"stroke":null},
"font":"Liberation Sans",
"title":{"fontSize":11,"fontWeight":"normal","color":"#222222","anchor":"middle","frame":"group"},
"axis":{"grid":false,"domainColor":"#333333","tickColor":"#333333","domainWidth":0.8,"tickWidth":0.8,"tickSize":3,"labelColor":"#333333","labelFontSize":5,"labelPadding":1,"titleFontSize":5.5,"titleFontWeight":"normal","titleColor":"#333333","titlePadding":8},
"legend":{"orient":"none","legendX":400,"legendY":-20,"strokeColor":"#999999","fillColor":"#ffffff","padding":3,"labelFontSize":7.5,"labelColor":"#222222","symbolType":"M-3,0H3","symbolSize":49,"symbolOffset":7,"symbolStrokeWidth":0.8,"rowPadding":0,"labelOffset":10,"labelLimit":0}
}
}
